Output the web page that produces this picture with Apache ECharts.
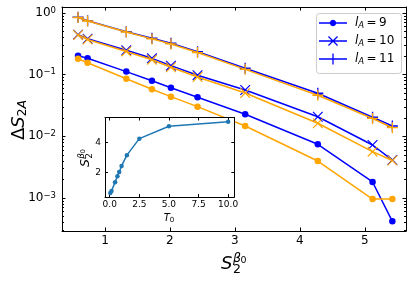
<!DOCTYPE html>
<html><head><meta charset="utf-8">
<script src="https://cdn.jsdelivr.net/npm/echarts@6/dist/echarts.min.js"></script>
<style>html,body{margin:0;padding:0;background:#fff}#c{width:416px;height:283px}</style>
</head><body><div id="c"></div>
<script>
// ---- data ----
const S2 = [0.585, 0.732, 1.328, 1.723, 2.015, 2.425, 3.159, 4.277, 5.12, 5.425];
const blueL9 = [0.203, 0.184, 0.112, 0.0798, 0.0615, 0.043, 0.0228, 0.00743, 0.00182, 0.000419];
const blueL10 = [0.445, 0.382, 0.248, 0.184, 0.140, 0.098, 0.0564, 0.0208, 0.00724, 0.00413];
const blueL11 = [0.852, 0.750, 0.497, 0.389, 0.323, 0.236, 0.127, 0.0499, 0.0204, 0.0147];
const orangeL9 = [0.1815, 0.156, 0.086, 0.058, 0.044, 0.0303, 0.0147, 0.00398, 0.00096, 0.00096];
const orangeL10 = [0.440, 0.372, 0.238, 0.174, 0.132, 0.0917, 0.0504, 0.0163, 0.00564, 0.00406];
const orangeL11 = [0.845, 0.742, 0.490, 0.380, 0.315, 0.228, 0.122, 0.0464, 0.0195, 0.0138];
const T0 = [0.05, 0.15, 0.45, 0.65, 0.8, 1.0, 1.45, 2.5, 5.0, 10.0];
const lAValues = [9, 10, 11];
const xTicks = [1, 2, 3, 4, 5];
const yTicks = [0.001, 0.01, 0.1, 1];
const insetXTicks = [0, 2.5, 5, 7.5, 10];
const insetXTickLabels = ['0.0', '2.5', '5.0', '7.5', '10.0'];
const insetYTicks = [2, 4];

// ---- styling helpers ----
const FONT = 'DejaVu Sans';
const BLUE = '#0000ff', ORANGE = '#ffa500', TAB = '#1f77b4';
const Y_MIN = 2.92e-4, Y_MAX = 1.25;
const minorTicks = [];
for (let k = -4; k <= 0; k++) for (let m = 2; m <= 9; m++) {
  const v = m * Math.pow(10, k);
  if (v > Y_MIN && v < Y_MAX) minorTicks.push(v);
}
const plusPath = 'path://M0,44 L100,44 L100,56 L0,56 Z M44,0 L56,0 L56,100 L44,100 Z';
const xPath = 'path://M0,8 L8,0 L100,92 L92,100 Z M92,0 L100,8 L8,100 L0,92 Z';

function rect(x0, y0, x1, y1) { return `M${x0},${y0} L${x1},${y0} L${x1},${y1} L${x0},${y1} Z`; }
const W = 28, C = 7, MID = W / 2;
const lineP = rect(0, C - 0.75, W, C + 0.75);
function dotIcon() {
  let p = ''; const r = 3.2, n = 24;
  for (let i = 0; i < n; i++) { const a = 2 * Math.PI * i / n; p += (i ? ' L' : 'M') + (MID + r * Math.cos(a)).toFixed(3) + ',' + (C + r * Math.sin(a)).toFixed(3); }
  return 'path://' + lineP + ' ' + p + ' Z';
}
function plusIcon() {
  const h = 5.5, t = 0.65;
  return 'path://' + lineP + ' ' + rect(MID - h, C - t, MID + h, C + t) + ' ' + rect(MID - t, C - h, MID + t, C + h);
}
function xIcon() {
  const h = 5, d = 0.9;
  const a = MID - h, b = MID + h, u = C - h, v = C + h;
  return 'path://' + lineP +
    ` M${a},${u + d} L${a + d},${u} L${b},${v - d} L${b - d},${v} Z` +
    ` M${b - d},${u} L${b},${u + d} L${a + d},${v} L${a},${v - d} Z`;
}

function mainSeries(name, ys, color, symbol, size, z) {
  return {
    name, type: 'line', xAxisIndex: 0, yAxisIndex: 0,
    data: S2.map((x, i) => [x, ys[i]]),
    symbol, symbolSize: size, showSymbol: true, showAllSymbol: true,
    lineStyle: { color, width: 1.5 }, itemStyle: { color, borderWidth: 0 },
    z, animation: false, emphasis: { disabled: true }, silent: true
  };
}

const axLine = { show: true, onZero: false, lineStyle: { color: '#000', width: 1 } };
const noSplit = { show: false };
function xAx(grid, pos, min, max, ticks, labels) {
  return {
    gridIndex: grid, type: 'value', position: pos, min, max,
    axisLine: axLine, splitLine: noSplit,
    axisTick: { show: true, inside: true, length: 3.5, customValues: ticks, lineStyle: { color: '#000' } },
    axisLabel: labels ? Object.assign({ show: true, customValues: ticks, color: '#000', fontFamily: FONT }, labels) : { show: false }
  };
}
function yLog(pos, ticks, len, line, labels) {
  return {
    gridIndex: 0, type: 'log', logBase: 10, position: pos, min: Y_MIN, max: Y_MAX,
    axisLine: line ? axLine : { show: false }, splitLine: noSplit, minorTick: { show: false },
    axisTick: { show: true, inside: true, length: len, customValues: ticks, lineStyle: { color: '#000' } },
    axisLabel: labels || { show: false }
  };
}
function yInset(pos, labels) {
  return {
    gridIndex: 1, type: 'value', position: pos, min: 0.32, max: 5.71, z: 6,
    axisLine: axLine, splitLine: noSplit,
    axisTick: { show: true, inside: true, length: 3, customValues: insetYTicks, lineStyle: { color: '#000' } },
    axisLabel: labels ? { show: true, customValues: insetYTicks, color: '#000', fontFamily: FONT, fontSize: 9, margin: 4 } : { show: false }
  };
}

const chart = echarts.init(document.getElementById('c'), null, { renderer: 'canvas' });
const xInsetB = xAx(1, 'bottom', -0.4, 10.52, insetXTicks, {
  fontSize: 9, margin: 3,
  formatter: v => insetXTickLabels[insetXTicks.indexOf(v)]
});
xInsetB.z = 6; xInsetB.axisTick.length = 3;
const xInsetT = xAx(1, 'top', -0.4, 10.52, insetXTicks, null);
xInsetT.z = 6; xInsetT.axisTick.length = 3;

chart.setOption({
  animation: false,
  backgroundColor: '#fff',
  grid: [
    { left: 62, top: 7, width: 344, height: 224, show: false },
    { left: 105, top: 117.5, width: 129.3, height: 79.5, show: true, backgroundColor: '#fff', borderWidth: 0, z: 5 }
  ],
  xAxis: [
    xAx(0, 'bottom', 0.338, 5.635, xTicks, { fontSize: 12, margin: 4 }),
    xAx(0, 'top', 0.338, 5.635, xTicks, null),
    xInsetB, xInsetT
  ],
  yAxis: [
    yLog('left', yTicks, 3.5, true, {
      show: true, customValues: yTicks, margin: 6, color: '#000',
      formatter: v => { const e = Math.round(Math.log10(v)); return '{b|10}{e|' + (e < 0 ? '\u2212' + (-e) : e) + '}'; },
      rich: {
        b: { fontFamily: FONT, fontSize: 12, lineHeight: 14, color: '#000' },
        e: { fontFamily: FONT, fontSize: 8.5, lineHeight: 8, verticalAlign: 'top', color: '#000' }
      }
    }),
    yLog('right', yTicks, 3.5, true, null),
    yLog('left', minorTicks, 2, false, null),
    yLog('right', minorTicks, 2, false, null),
    yInset('left', true),
    yInset('right', false)
  ],
  legend: {
    orient: 'vertical', left: 316, top: 13, padding: [4, 0, 5, 3], z: 6,
    itemWidth: W, itemHeight: 14, itemGap: 4.5, selectedMode: false,
    itemStyle: { borderWidth: 0 },
    data: [
      { name: 'l9', icon: dotIcon(), itemStyle: { color: BLUE, borderWidth: 0 } },
      { name: 'l10', icon: xIcon(), itemStyle: { color: BLUE, borderWidth: 0 } },
      { name: 'l11', icon: plusIcon(), itemStyle: { color: BLUE, borderWidth: 0 } }
    ],
    formatter: name => { const n = lAValues[['l9', 'l10', 'l11'].indexOf(name)]; return '{i|l}{s|A}{n|\u2009=\u2009' + n + '}'; },
    textStyle: {
      rich: {
        i: { fontFamily: FONT, fontStyle: 'italic', fontSize: 12, lineHeight: 15, color: '#000', padding: [0, 0, 0, 3] },
        s: { fontFamily: FONT, fontStyle: 'italic', fontSize: 8.5, lineHeight: 6, verticalAlign: 'bottom', color: '#000' },
        n: { fontFamily: FONT, fontSize: 12, lineHeight: 15, color: '#000' }
      }
    }
  },
  series: [
    mainSeries('l9', blueL9, BLUE, 'circle', 6.5, 2),
    mainSeries('l10', blueL10, BLUE, xPath, 10.5, 2),
    mainSeries('l11', blueL11, BLUE, plusPath, 11, 2),
    mainSeries('o9', orangeL9, ORANGE, 'circle', 6.5, 3),
    mainSeries('o10', orangeL10, ORANGE, xPath, 10.5, 3),
    mainSeries('o11', orangeL11, ORANGE, plusPath, 11, 3),
    {
      name: 'inset', type: 'line', xAxisIndex: 2, yAxisIndex: 4,
      data: T0.map((t, i) => [t, S2[i]]),
      symbol: 'circle', symbolSize: 4.5, showSymbol: true, showAllSymbol: true,
      lineStyle: { color: TAB, width: 1.5 }, itemStyle: { color: TAB, borderWidth: 0 },
      z: 7, silent: true, animation: false
    }
  ],
  graphic: [
    { type: 'rect', z: 5, silent: true,
      shape: { x: 316.5, y: 13.5, width: 85, height: 60, r: 3 },
      style: { fill: '#fff', stroke: '#cccccc', lineWidth: 1 } },
    { type: 'text', x: 19, y: 120, rotation: Math.PI / 2, z: 10,
      style: { text: '{d|\u0394}{S|S}{s|2}{a|A}', align: 'center', verticalAlign: 'middle',
        rich: {
          d: { fontFamily: FONT, fontSize: 18, lineHeight: 20, fill: '#000' },
          S: { fontFamily: FONT, fontStyle: 'italic', fontSize: 18, lineHeight: 20, fill: '#000' },
          s: { fontFamily: FONT, fontSize: 12.5, lineHeight: 10, verticalAlign: 'bottom', fill: '#000' },
          a: { fontFamily: FONT, fontStyle: 'italic', fontSize: 12.5, lineHeight: 10, verticalAlign: 'bottom', fill: '#000' }
        } } },
    { type: 'group', x: 221, y: 264, z: 10, children: [
      { type: 'text', x: 0, y: 0, style: { text: 'S', fontFamily: FONT, fontStyle: 'italic', fontSize: 18, fill: '#000', align: 'left', verticalAlign: 'middle' } },
      { type: 'text', x: 12, y: 5.5, style: { text: '2', fontFamily: FONT, fontSize: 12.5, fill: '#000', align: 'left', verticalAlign: 'middle' } },
      { type: 'text', x: 12, y: -5, style: { text: '\u03b2', fontFamily: FONT, fontStyle: 'italic', fontSize: 12.5, fill: '#000', align: 'left', verticalAlign: 'middle' } },
      { type: 'text', x: 19.5, y: -3.5, style: { text: '0', fontFamily: FONT, fontSize: 9.5, fill: '#000', align: 'left', verticalAlign: 'middle' } }
    ] },
    { type: 'text', x: 169, y: 218, z: 10,
      style: { text: '{t|T}{s|0}', align: 'center', verticalAlign: 'middle',
        rich: {
          t: { fontFamily: FONT, fontStyle: 'italic', fontSize: 10, lineHeight: 12, fill: '#000' },
          s: { fontFamily: FONT, fontSize: 7, lineHeight: 5, verticalAlign: 'bottom', fill: '#000' }
        } } },
    { type: 'group', x: 86, y: 167, rotation: Math.PI / 2, z: 10, children: [
      { type: 'text', x: 0, y: 0, style: { text: 'S', fontFamily: FONT, fontStyle: 'italic', fontSize: 12.5, fill: '#000', align: 'left', verticalAlign: 'middle' } },
      { type: 'text', x: 8.3, y: 4, style: { text: '2', fontFamily: FONT, fontSize: 8.8, fill: '#000', align: 'left', verticalAlign: 'middle' } },
      { type: 'text', x: 8.3, y: -4, style: { text: '\u03b2', fontFamily: FONT, fontStyle: 'italic', fontSize: 8.8, fill: '#000', align: 'left', verticalAlign: 'middle' } },
      { type: 'text', x: 13.8, y: -3, style: { text: '0', fontFamily: FONT, fontSize: 6.5, fill: '#000', align: 'left', verticalAlign: 'middle' } }
    ] }
  ]
});
</script>
</body></html>
